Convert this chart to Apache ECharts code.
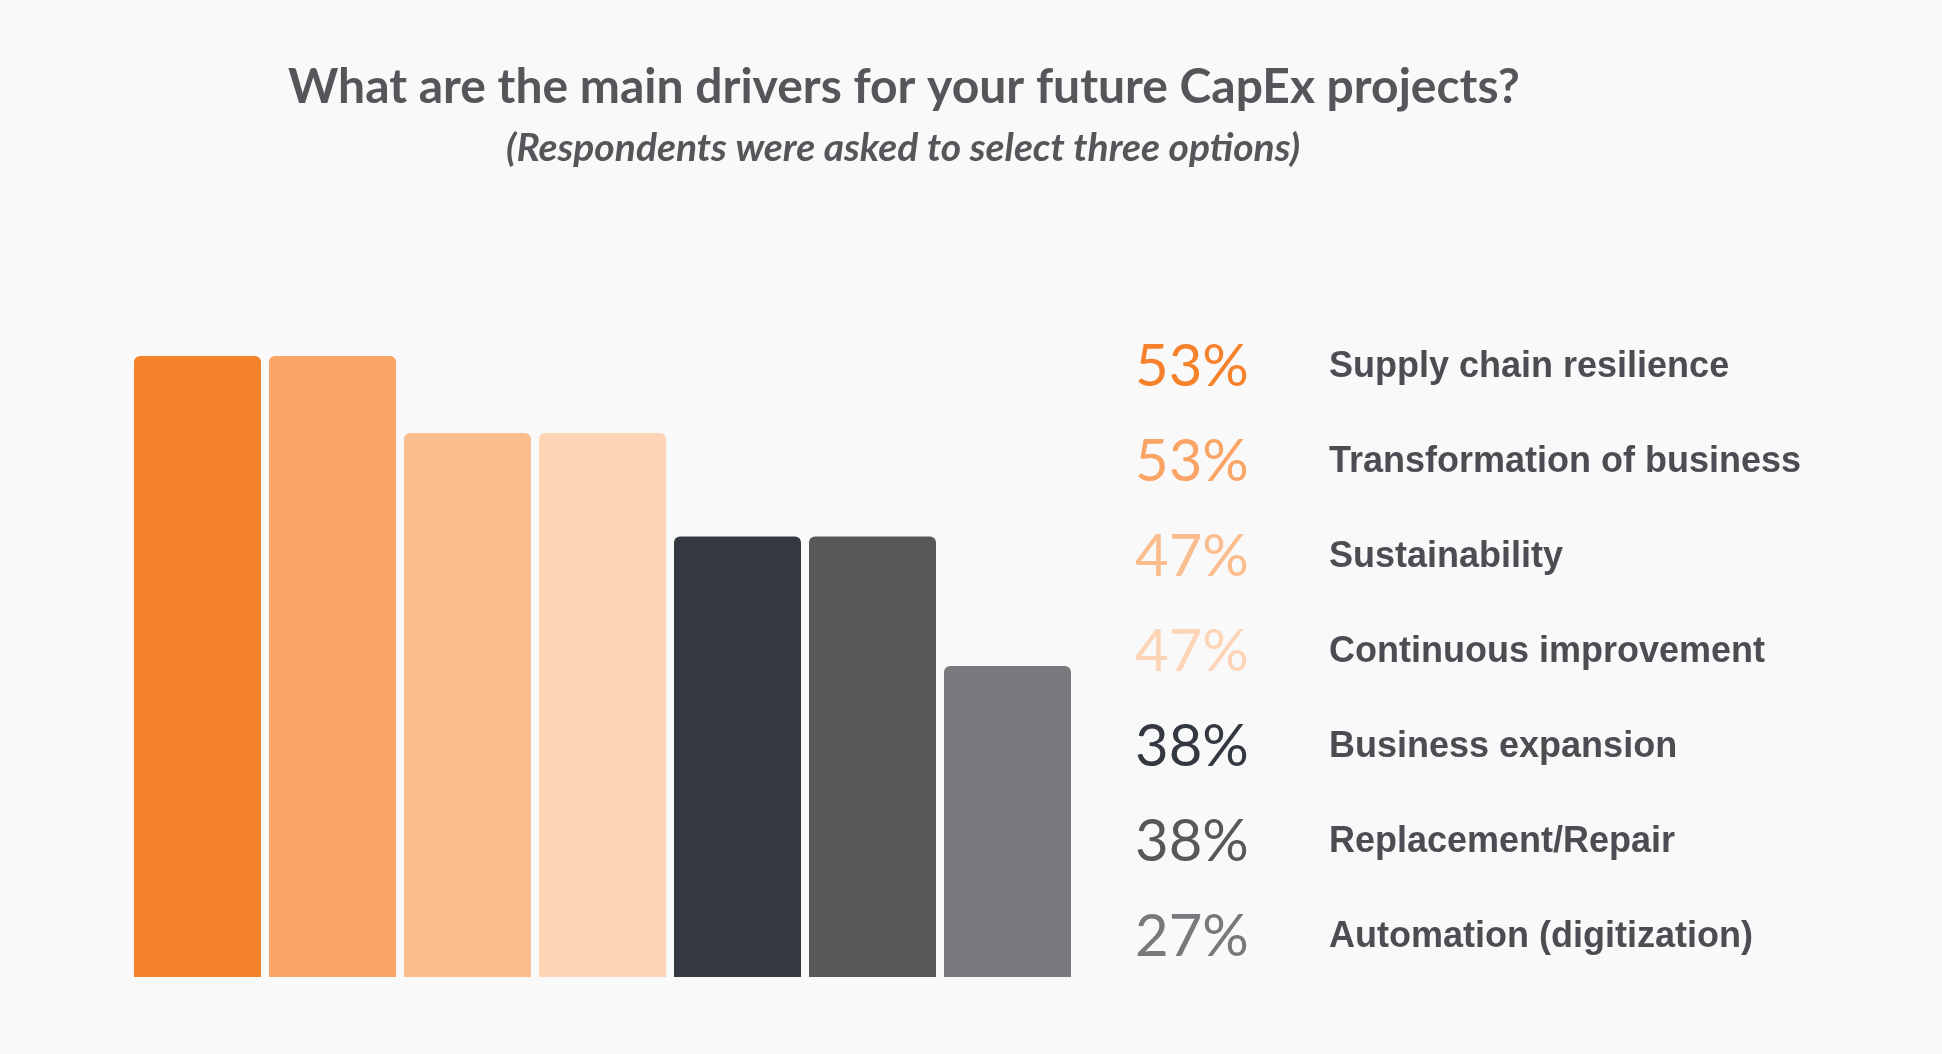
<!DOCTYPE html>
<html><head><meta charset="utf-8">
<script src="https://cdn.jsdelivr.net/npm/echarts@6/dist/echarts.min.js"></script>
<style>html,body{margin:0;padding:0;background:#f9f9f9}#c{width:1942px;height:1054px}</style>
</head><body><div id="c"></div>
<script>
const categories = ['Supply chain resilience','Transformation of business','Sustainability','Continuous improvement','Business expansion','Replacement/Repair','Automation (digitization)'];
const values = [53.3, 53.3, 46.7, 46.7, 37.8, 37.8, 26.7];
const percentLabels = ['53%','53%','47%','47%','38%','38%','27%'];
const colors = ['#F6822B','#FAA465','#FBBD8E','#FDD5B6','#343841','#58585B','#78787D'];
const titleText = 'What are the main drivers for your future CapEx projects?';
const subtitleText = '(Respondents were asked to select three options)';

const rich = { l: { fontFamily: 'Liberation Sans', fontWeight: 'bold', fontSize: 36, color: '#4C4D53' } };
colors.forEach((c, i) => {
  rich['p' + i] = { fontFamily: 'Lato', fontWeight: 400, fontSize: 58, color: c, width: 194, align: 'left' };
});

const chart = echarts.init(document.getElementById('c'));
chart.setOption({
  backgroundColor: '#f9f9f9',
  animation: false,
  title: [
    { text: titleText, left: 283, top: 59, textStyle: { fontFamily: 'Lato', fontWeight: 'bold', fontSize: 48, color: '#55555A' } },
    { text: subtitleText, left: 501, top: 124, textStyle: { fontFamily: 'Lato', fontWeight: 'bold', fontStyle: 'italic', fontSize: 39, color: '#55555A' } }
  ],
  grid: [
    { left: 130, width: 945, top: 356, bottom: 77 },
    { left: 100, width: 1027, top: 319.5, bottom: 69.5 }
  ],
  xAxis: [
    { type: 'category', gridIndex: 0, data: categories, show: false },
    { type: 'value', gridIndex: 1, show: false, min: 0, max: 1 }
  ],
  yAxis: [
    { type: 'value', gridIndex: 0, min: 0, max: 53.3, show: false },
    { type: 'category', gridIndex: 1, data: categories, inverse: true, position: 'right',
      axisLine: { show: false }, axisTick: { show: false }, splitLine: { show: false },
      axisLabel: { margin: 8, formatter: (v, i) => '{p' + i + '|' + percentLabels[i] + '}{l|' + v + '}', rich: rich } }
  ],
  series: [
    { type: 'bar', xAxisIndex: 0, yAxisIndex: 0, barWidth: 127,
      data: values.map((v, i) => ({ value: v, itemStyle: { color: colors[i] } })),
      itemStyle: { borderRadius: [6, 6, 0, 0] } }
  ]
});
</script></body></html>
